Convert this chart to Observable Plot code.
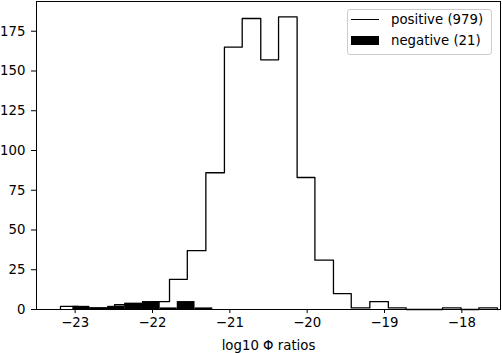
<!DOCTYPE html>
<html>
<head>
<meta charset="utf-8">
<script src="https://cdn.jsdelivr.net/npm/d3@7"></script>
<script src="https://cdn.jsdelivr.net/npm/@observablehq/plot@0.6"></script>
<style>
  html, body { margin: 0; padding: 0; background: #fff; }
  #wrap { position: relative; width: 502px; height: 353px; font-family: "DejaVu Sans", sans-serif; }
  #legend { position: absolute; left: 347px; top: 9px; width: 143px; height: 44px;
    border: 1px solid #cccccc; border-radius: 3px; background: rgba(255,255,255,0.8);
    font-size: 13.3px; color: #000; }
  .item { position: absolute; left: 3px; height: 16px; display: flex; align-items: center; }
  .swatch-line { width: 28px; height: 0; border-top: 1.3px solid #000; }
  .swatch-rect { width: 28px; height: 9px; background: #000; }
  .item span { margin-left: 12px; white-space: nowrap; }
</style>
</head>
<body>
<div id="wrap"></div>
<script>
// Positive histogram: bin edges and counts
const posEdges = [-23.19, -22.96, -22.72, -22.49, -22.25, -22.02, -21.78, -21.55, -21.31, -21.07,
  -20.84, -20.60, -20.37, -20.13, -19.90, -19.66, -19.43, -19.19, -18.95, -18.72,
  -18.48, -18.25, -18.01, -17.78, -17.54];
const posCounts = [2, 1, 1, 3, 3, 5, 19, 37, 86, 165, 183, 157, 184, 83, 31, 10, 1, 5, 1, 0, 0, 1, 0, 1];

// Negative histogram: bin edges and counts
const negEdges = [-23.03, -22.81, -22.58, -22.36, -22.13, -21.90, -21.68, -21.45, -21.22];
const negCounts = [2, 1, 2, 4, 5, 1, 5, 1];

const xTicks = [-23, -22, -21, -20, -19, -18];
const xTickLabels = ["−23", "−22", "−21", "−20", "−19", "−18"];
const yTicks = [0, 25, 50, 75, 100, 125, 150, 175];
const xLabel = "log10 Φ ratios";
const legendLabels = ["positive (979)", "negative (21)"];

// Build step outline points
const stepPts = [{x: posEdges[0], y: 0}];
posCounts.forEach((c, i) => stepPts.push({x: posEdges[i], y: c}));
stepPts.push({x: posEdges[posEdges.length - 1], y: 0});

const negBars = negCounts.map((c, i) => ({x1: negEdges[i], x2: negEdges[i + 1], y: c}));

const chart = Plot.plot({
  width: 502,
  height: 353,
  marginLeft: 36,
  marginRight: 2,
  marginTop: 1,
  marginBottom: 44,
  style: {fontFamily: "DejaVu Sans, sans-serif", fontSize: "13.3px", color: "#000", background: "#fff", overflow: "visible"},
  x: {domain: [-23.5, -17.5]},
  y: {domain: [0, 193.7]},
  marks: [
    Plot.line(stepPts, {x: "x", y: "y", curve: "step-after", stroke: "#000", strokeWidth: 1.3}),
    Plot.rectY(negBars, {x1: "x1", x2: "x2", y: "y", fill: "#000", insetLeft: 0, insetRight: 0}),
    Plot.frame({stroke: "#000", strokeWidth: 1}),
    Plot.axisX(xTicks, {tickSize: 4, tickPadding: 4, tickFormat: (d, i) => xTickLabels[i],
      label: null, fontSize: 13.3}),
    Plot.axisY(yTicks, {tickSize: 5, tickPadding: 6, label: null, fontSize: 13.3}),
    Plot.text([xLabel], {text: d => d, frameAnchor: "bottom", lineAnchor: "middle", dy: 36,
      fontSize: 13.3, fill: "#000"})
  ]
});
const wrap = document.getElementById("wrap");
wrap.appendChild(chart);

const legend = document.createElement("div");
legend.id = "legend";
legend.innerHTML = `
  <div class="item" style="top:1px"><div class="swatch-line"></div><span>${legendLabels[0]}</span></div>
  <div class="item" style="top:22px"><div class="swatch-rect"></div><span>${legendLabels[1]}</span></div>`;
wrap.appendChild(legend);
</script>
</body>
</html>
